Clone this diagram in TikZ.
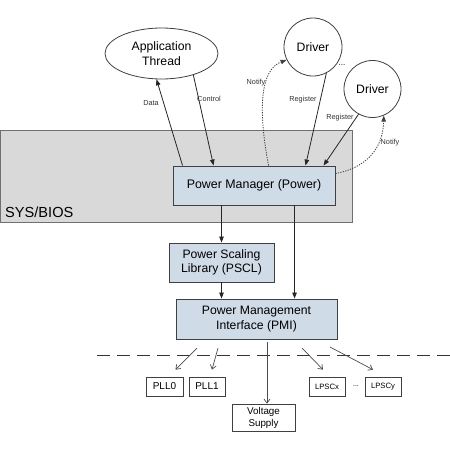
\documentclass[tikz,border=0pt]{standalone}
\usepackage{fontspec}
\setmainfont{Liberation Sans}
\usetikzlibrary{arrows.meta,shapes.geometric}
\definecolor{sysfill}{HTML}{D9D9D9}
\definecolor{sysline}{HTML}{707070}
\definecolor{pmfill}{HTML}{D0DBE8}
\definecolor{boxline}{HTML}{404040}
\tikzset{
  bluebox/.style={draw=boxline,fill=pmfill,line width=0.9pt,inner sep=0pt,align=center,font=\fontsize{12.4}{14.5}\selectfont},
  smallbox/.style={draw=boxline,fill=white,line width=0.7pt,inner sep=0pt,align=center,minimum height=19pt},
  drvnode/.style={draw=boxline,fill=white,circle,line width=0.8pt,inner sep=0pt,font=\fontsize{12.2}{14}\selectfont},
  lbl/.style={font=\fontsize{7.3}{8}\selectfont,inner sep=0pt,text=black!80},
  arr/.style={draw=black!85,line width=0.8pt,-{Triangle[length=6pt,width=4.5pt]}},
  dotarr/.style={draw=black!75,line width=0.8pt,dash pattern=on 1.3pt off 1.2pt,-{Triangle[length=6pt,width=4.5pt]}},
  thinarr/.style={draw=black!70,line width=0.7pt,-{Straight Barb[length=4pt,width=6pt]}},
}
\begin{document}
\begin{tikzpicture}[x=1pt,y=-1pt]
\useasboundingbox (0,0) rectangle (450,450);
\fill[white] (0,0) rectangle (450,450);
% SYS/BIOS box
\node[draw=sysline,fill=sysfill,line width=0.9pt,minimum width=352pt,minimum height=92pt,inner sep=0pt] (sys) at (176.5,176) {};
\node[anchor=west,inner sep=0pt,font=\fontsize{14.6}{16}\selectfont] (sysl) at (5,212) {SYS/BIOS};
% nodes
\node[draw=boxline,fill=white,ellipse,line width=0.8pt,minimum width=113pt,minimum height=51pt,inner sep=0pt,align=center,font=\fontsize{12.2}{15}\selectfont] (app) at (161.5,53.5) {Application\\Thread};
\node[drvnode,minimum size=58pt] (drv1) at (313,47) {Driver};
\node[drvnode,minimum size=57pt] (drv2) at (372.5,89) {Driver};
\node[inner sep=0pt,font=\fontsize{8}{9}\selectfont] (dots1) at (342,65) {...};
\node[bluebox,minimum width=162pt,minimum height=39pt] (pm) at (254,185.5) {Power Manager (Power)};
\node[bluebox,minimum width=105pt,minimum height=39pt,font=\fontsize{12.2}{14}\selectfont] (pscl) at (221.5,262.5) {Power Scaling\\Library (PSCL)};
\node[bluebox,minimum width=161pt,minimum height=40pt,font=\fontsize{12.2}{14.5}\selectfont] (pmi) at (256.5,319) {Power Management\\Interface (PMI)};
% bottom boxes
\node[smallbox,minimum width=37pt,font=\fontsize{10}{11}\selectfont] (pll0) at (164.5,386.5) {PLL0};
\node[smallbox,minimum width=36pt,font=\fontsize{10}{11}\selectfont] (pll1) at (207,386.5) {PLL1};
\node[smallbox,minimum width=36pt,font=\fontsize{7.7}{9}\selectfont] (lpscx) at (327,386.5) {LPSCx};
\node[smallbox,minimum width=36pt,font=\fontsize{7.7}{9}\selectfont] (lpscy) at (383,386.5) {LPSCy};
\node[inner sep=0pt,font=\fontsize{7}{8}\selectfont] (dots2) at (356,386) {...};
\node[smallbox,minimum width=63pt,minimum height=27pt,font=\fontsize{9.8}{12}\selectfont] (volt) at (263.5,417.5) {Voltage\\Supply};
% dashed line
\coordinate (dl) at (97,355);
\coordinate (dr) at (450,355);
\draw[draw=black!80,line width=0.9pt,dash pattern=on 13pt off 7pt] (dl) -- (dr);
% top connectors
\draw[arr] ([xshift=10pt]pm.north west) -- (app.-101);
\draw[arr] (app.-34) -- ([xshift=41pt]pm.north west);
\draw[arr] (drv1.-63) -- ([xshift=133pt]pm.north west);
\draw[arr] (drv2.-119) -- ([xshift=151pt]pm.north west);
\draw[dotarr] ([xshift=96pt]pm.north west) .. controls (258,110) and (260,70) .. (drv1.206);
\draw[dotarr] ([yshift=-8pt]pm.north east) .. controls (365,168) and (383,150) .. (drv2.-67);
% labels
\node[lbl] (ldata) at (151,103) {Data};
\node[lbl] (lctrl) at (209,99) {Control};
\node[lbl] (lnot1) at (256,83) {Notify};
\node[lbl] (lreg1) at (303,100) {Register};
\node[lbl] (lreg2) at (340,118) {Register};
\node[lbl] (lnot2) at (390,143) {Notify};
% middle connectors
\draw[arr] (pm.south -| pscl.north) -- (pscl.north);
\draw[arr] (pscl.south) -- (pscl.south |- pmi.north);
\draw[arr] ([xshift=122pt]pm.south west) -- ([xshift=119pt]pmi.north west);
% bottom connectors
\coordinate (s0) at (197,348);
\coordinate (s1) at (218,348);
\coordinate (sv) at (267,342);
\coordinate (sx) at (302,348);
\coordinate (sy) at (330,347);
\draw[thinarr] (s0) -- ([xshift=11pt,yshift=7pt]pll0.north);
\draw[thinarr] (s1) -- ([xshift=5pt,yshift=7pt]pll1.north);
\draw[thinarr] (sv) -- ([xshift=3.5pt]volt.north);
\draw[thinarr] (sx) -- ([xshift=-4pt,yshift=7pt]lpscx.north);
\draw[thinarr] (sy) -- ([xshift=-10pt,yshift=7pt]lpscy.north);
\end{tikzpicture}
\end{document}
